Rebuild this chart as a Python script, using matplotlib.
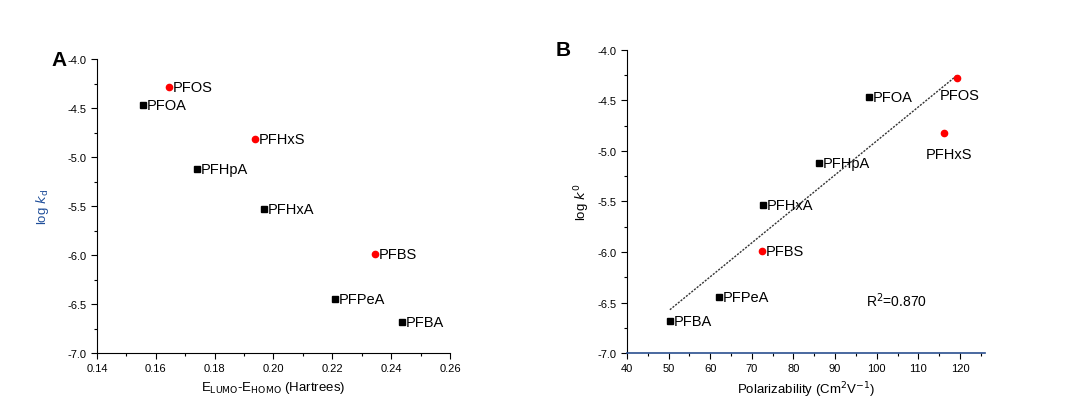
"""Two-panel scatter: log k vs HOMO-LUMO gap (A) and vs polarizability (B)."""
import matplotlib.pyplot as plt
import numpy as np

plt.rcParams["font.family"] = ["Liberation Sans", "DejaVu Sans"]

# compounds, in the same order for both panels
names = ["PFOS", "PFOA", "PFHxS", "PFHpA", "PFHxA", "PFBS", "PFPeA", "PFBA"]
is_sulfonate = [True, False, True, False, False, True, False, False]
log_k = [-4.28, -4.47, -4.82, -5.12, -5.53, -5.99, -6.45, -6.68]

# panel A: E_LUMO - E_HOMO (Hartrees)
gap = [0.1645, 0.1556, 0.1937, 0.1740, 0.1968, 0.2345, 0.2209, 0.2437]
# panel B: polarizability
polar = [119.2, 98.1, 116.1, 86.1, 72.6, 72.4, 62.1, 50.3]

r2_text = "R$^2$=0.870"

# label offsets in points for panel B (others sit to the right)
b_offsets = {"PFOS": (-12, -12), "PFHxS": (-13, -15)}


def style_axes(ax):
    for side in ("top", "right"):
        ax.spines[side].set_visible(False)
    ax.tick_params(direction="out", labelsize=8, length=4, width=0.8)
    ax.tick_params(which="minor", direction="out", length=2, width=0.8)
    ax.set_ylim(-7.0, -4.0)
    ax.set_yticks(np.arange(-7.0, -3.99, 0.5))
    ax.set_yticks(np.arange(-6.75, -4.0, 0.5), minor=True)
    ax.yaxis.set_major_formatter(plt.FormatStrFormatter("%.1f"))


def draw_points(ax, xs, offsets):
    for name, x, y, red in zip(names, xs, log_k, is_sulfonate):
        if red:
            ax.plot(x, y, "o", color="red", markersize=4.5, zorder=3)
        else:
            ax.plot(x, y, "s", color="black", markersize=4, zorder=3)
        dx, dy = offsets.get(name, (3, 0))
        ax.annotate(name, (x, y), xytext=(dx, dy), textcoords="offset points",
                    fontsize=10.5, va="center", ha="left")


fig = plt.figure(figsize=(10.74, 4.14), dpi=100)
ax_a = fig.add_axes([0.0903, 0.1449, 0.3287, 0.710])
ax_b = fig.add_axes([0.5838, 0.1449, 0.3333, 0.732])

# panel A
style_axes(ax_a)
draw_points(ax_a, gap, {})
ax_a.set_xlim(0.14, 0.26)
ax_a.set_xticks(np.arange(0.14, 0.261, 0.02))
ax_a.set_xticks(np.arange(0.15, 0.26, 0.02), minor=True)
ax_a.xaxis.set_major_formatter(plt.FormatStrFormatter("%.2f"))
ax_a.set_xlabel("E$_{\\mathrm{LUMO}}$-E$_{\\mathrm{HOMO}}$ (Hartrees)", fontsize=9.5)
ax_a.set_ylabel("log $k_{\\mathrm{d}}$", fontsize=9.5, color="#1f4e9a", labelpad=12)
ax_a.text(-0.13, 1.0, "A", transform=ax_a.transAxes, fontsize=15,
          fontweight="bold", va="center")

# panel B
style_axes(ax_b)
draw_points(ax_b, polar, b_offsets)
coef = np.polyfit(polar, log_k, 1)
fit_x = np.array([min(polar), max(polar)])
ax_b.plot(fit_x, np.polyval(coef, fit_x), linestyle=(0, (1.5, 1)),
          color="#333333", linewidth=1.0, zorder=2)
ax_b.set_xlim(40, 126)
ax_b.set_xticks(np.arange(40, 121, 10))
ax_b.set_xticks(np.arange(45, 126, 10), minor=True)
ax_b.spines["bottom"].set_color("#2a4f8f")
ax_b.spines["bottom"].set_linewidth(1.2)
ax_b.text(97.5, -6.47, r2_text, fontsize=10, va="center")
ax_b.set_xlabel("Polarizability (Cm$^2$V$^{-1}$)", fontsize=9.5)
ax_b.set_ylabel("log $k^{0}$", fontsize=9.5)
ax_b.text(-0.2, 1.0, "B", transform=ax_b.transAxes, fontsize=15,
          fontweight="bold", va="center")

fig.savefig("out.png", dpi=100)
